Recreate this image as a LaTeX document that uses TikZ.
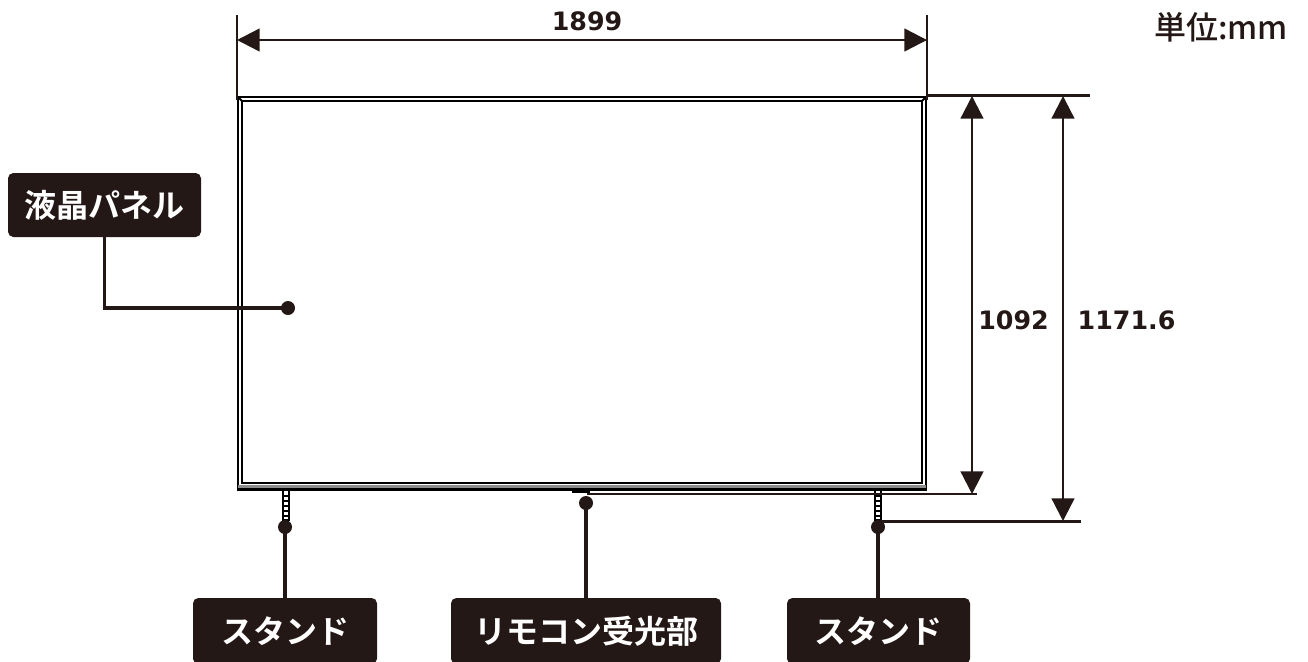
\documentclass[tikz,border=0pt]{standalone}
\usepackage{fontspec}
\setmainfont{DejaVu Sans}
\newfontfamily\cjk{Noto Sans CJK JP}[BoldFont={Noto Sans CJK JP Bold}]
\newfontfamily\cjkmed{Noto Sans CJK JP Medium}
\usetikzlibrary{arrows.meta}
\definecolor{ink}{HTML}{231815}
\tikzset{x=0.75pt,y=-0.75pt,
 dimline/.style={ink,line width=1.8pt,{Triangle[length=17pt,width=17pt]}-{Triangle[length=17pt,width=17pt]}},
 ext/.style={ink,line width=1.7pt},
 panel/.style={black,line width=1.4pt},
 lead/.style={ink,line width=2.8pt},
 dot/.style={circle,fill=ink,inner sep=0pt,minimum size=10.5pt},
 lab/.style={fill=ink,text=white,rounded corners=4pt,inner sep=0pt,font=\cjk\bfseries\fontsize{24}{24}\selectfont},
 num/.style={ink,font=\bfseries\fontsize{19}{19}\selectfont,inner sep=0pt}}
\begin{document}
\begin{tikzpicture}
\useasboundingbox (0,0) rectangle (1308,661);
% panel
\draw[panel] (238,97) rectangle (926,490);
\draw[panel] (242,101) rectangle (922,483);
\draw[panel] (238,97)--(242,101) (926,97)--(922,101);
\fill[black!45] (238,484.5) rectangle (926,487.5);
\draw[black,line width=1.8pt] (238,489.5)--(926,489.5);
% remote sensor
\fill[black] (572,490) rectangle (590,493);
% stands
\foreach \sx in {286,878}{
  \draw[black,line width=1pt] (\sx-3,490) rectangle (\sx+3,520);
  \foreach \sy in {496,501,506,511,516}{\draw[black,line width=0.8pt] (\sx-3,\sy)--(\sx+3,\sy);}
}
% dimensions
\coordinate (a0) at (237,15); \coordinate (a3) at (237,100);
\coordinate (d0) at (927,15); \coordinate (d3) at (927,100);
\coordinate (a1) at (237,40); \coordinate (a2) at (927,40);
\draw[ext] (a0)--(a3) (d0)--(d3);
\draw[dimline] (a1)--(a2);
\node[num] (w) at (587,21) {1899};
\node[ink,font=\cjkmed\fontsize{24}{24}\selectfont,inner sep=0pt] (u) at (1221,27) {単位:mm};
\draw[ext] (927,95.5)--(1090,95.5) (587,494)--(977,494) (880,521.5)--(1081,521.5);
\coordinate (b1) at (972,96); \coordinate (b2) at (972,494);
\coordinate (c1) at (1063,96); \coordinate (c2) at (1063,521);
\draw[dimline] (b1)--(b2);
\draw[dimline] (c1)--(c2);
\node[num] (h1) at (1013.5,320) {1092};
\node[num] (h2) at (1126.5,320) {1171.6};
% labels
\node[lab,minimum width=144.75pt,minimum height=48pt] (p) at (104.5,205) {液晶パネル};
\node[lab,minimum width=138pt,minimum height=49.5pt] (s1) at (285,631) {スタンド};
\node[lab,minimum width=202.5pt,minimum height=49.5pt] (r) at (586,631) {リモコン受光部};
\node[lab,minimum width=137.25pt,minimum height=49.5pt] (s2) at (878.5,631) {スタンド};
% leaders
\node[dot] (dp) at (288,308) {};
\node[dot] (ds1) at (285,527) {};
\node[dot] (dr) at (586,503) {};
\node[dot] (ds2) at (878,527) {};
\coordinate (pb) at (104.5,237);
\draw[lead] (pb) |- (dp.center);
\draw[lead] (ds1.center)--(ds1.center |- s1.north);
\draw[lead] (dr.center)--(dr.center |- r.north);
\draw[lead] (ds2.center)--(ds2.center |- s2.north);
\end{tikzpicture}
\end{document}
